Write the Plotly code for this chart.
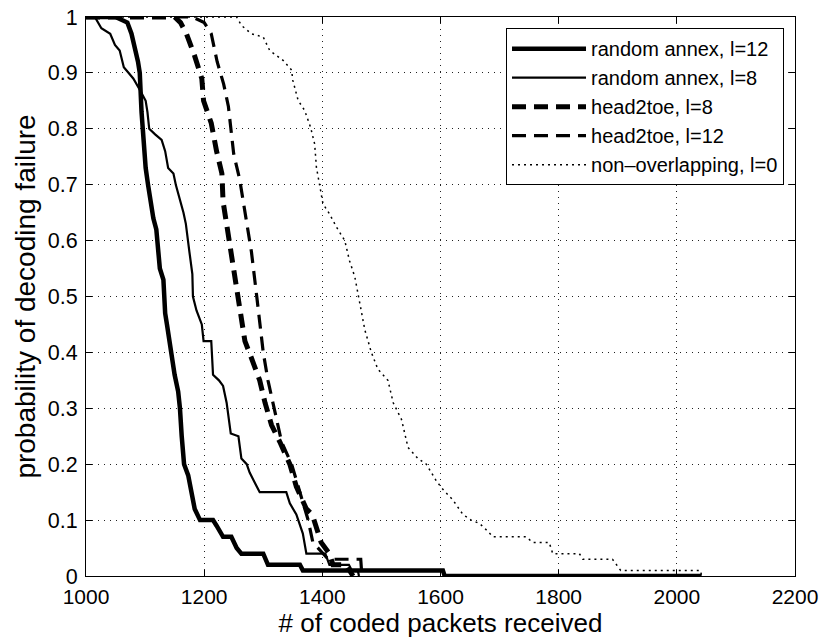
import plotly.graph_objects as go

# ---- data ----
ra12_x = [1000, 1050, 1070, 1077, 1088, 1091, 1094, 1096, 1101, 1105, 1114, 1119, 1121, 1125, 1131, 1132,
          1134, 1137, 1144, 1150, 1156, 1159, 1162, 1166, 1173, 1179, 1184, 1193, 1215, 1221, 1232, 1246,
          1255, 1263, 1300, 1308, 1362, 1367, 1604, 1607, 2042]
ra12_y = [1.00, 1.00, 0.99, 0.97, 0.92, 0.90, 0.83, 0.80, 0.73, 0.70, 0.64, 0.62, 0.60, 0.55, 0.53, 0.50,
          0.47, 0.45, 0.40, 0.36, 0.33, 0.30, 0.25, 0.20, 0.18, 0.15, 0.12, 0.10, 0.10, 0.09, 0.07, 0.07,
          0.05, 0.04, 0.04, 0.02, 0.02, 0.01, 0.01, 0.00, 0.00]

ra8_x = [1000, 1015, 1026, 1041, 1049, 1057, 1064, 1080, 1091, 1101, 1104, 1107, 1117, 1128, 1134, 1139,
         1148, 1152, 1165, 1169, 1175, 1180, 1181, 1187, 1196, 1199, 1212, 1215, 1225, 1232, 1238, 1245,
         1258, 1263, 1272, 1277, 1289, 1294, 1339, 1345, 1356, 1367, 1373, 1405, 1412, 1445, 1450, 1460, 1462]
ra8_y = [1.00, 1.00, 0.98, 0.97, 0.95, 0.94, 0.91, 0.89, 0.87, 0.85, 0.83, 0.80, 0.79, 0.78, 0.76, 0.73,
         0.72, 0.70, 0.65, 0.63, 0.58, 0.54, 0.50, 0.475, 0.45, 0.42, 0.42, 0.36, 0.35, 0.34, 0.31, 0.255,
         0.25, 0.21, 0.20, 0.185, 0.16, 0.15, 0.15, 0.13, 0.11, 0.076, 0.04, 0.04, 0.02, 0.02, 0.01, 0.01, 0.00]

h2t8_x = [1000, 1150, 1160, 1170, 1184, 1196, 1199, 1212, 1221, 1230, 1232, 1241, 1249, 1258, 1263, 1269,
          1280, 1294, 1303, 1314, 1328, 1345, 1356, 1373, 1383, 1398, 1412, 1418, 1440, 1445, 1452]
h2t8_y = [1.00, 1.00, 0.99, 0.97, 0.93, 0.89, 0.85, 0.81, 0.76, 0.72, 0.67, 0.61, 0.56, 0.50, 0.47, 0.42,
          0.39, 0.35, 0.31, 0.27, 0.24, 0.20, 0.16, 0.12, 0.11, 0.06, 0.04, 0.02, 0.02, 0.01, 0.00]

h2t12_x = [1000, 1180, 1200, 1212, 1222, 1233, 1241, 1250, 1260, 1266, 1274, 1280, 1289, 1294, 1300, 1308,
           1320, 1331, 1348, 1362, 1376, 1384, 1401, 1410, 1465, 1467]
h2t12_y = [1.00, 1.00, 0.99, 0.97, 0.92, 0.88, 0.84, 0.755, 0.71, 0.67, 0.62, 0.58, 0.50, 0.45, 0.40, 0.35,
           0.29, 0.24, 0.20, 0.15, 0.10, 0.06, 0.04, 0.03, 0.03, 0.00]

non_x = [1000, 1255, 1263, 1280, 1300, 1311, 1334, 1348, 1350, 1359, 1370, 1380, 1387, 1390, 1396, 1401,
         1412, 1424, 1438, 1446, 1455, 1460, 1466, 1472, 1483, 1494, 1511, 1520, 1534, 1545, 1562, 1576,
         1593, 1604, 1621, 1638, 1652, 1666, 1680, 1689, 1745, 1756, 1784, 1790, 1835, 1841, 1891, 1905,
         2040, 2042]
non_y = [1.00, 1.00, 0.985, 0.97, 0.964, 0.94, 0.922, 0.905, 0.887, 0.851, 0.833, 0.803, 0.773, 0.731, 0.696,
         0.666, 0.648, 0.624, 0.60, 0.564, 0.535, 0.505, 0.47, 0.44, 0.40, 0.37, 0.35, 0.31, 0.28, 0.23,
         0.21, 0.20, 0.17, 0.155, 0.136, 0.11, 0.10, 0.094, 0.08, 0.07, 0.07, 0.06, 0.06, 0.04, 0.04, 0.03,
         0.03, 0.01, 0.01, 0.00]

names = ["random annex, l=12", "random annex, l=8", "head2toe, l=8", "head2toe, l=12",
         "non\u2013overlapping, l=0"]

x_ticks = [1000, 1200, 1400, 1600, 1800, 2000, 2200]
y_ticks = [0, 0.1, 0.2, 0.3, 0.4, 0.5, 0.6, 0.7, 0.8, 0.9, 1]
y_ticktext = ["0", "0.1", "0.2", "0.3", "0.4", "0.5", "0.6", "0.7", "0.8", "0.9", "1"]

FONT = "Liberation Sans, Arial, Helvetica, sans-serif"

fig = go.Figure()
series = [
    (ra12_x, ra12_y, dict(color="black", width=4.5, dash="solid")),
    (ra8_x, ra8_y, dict(color="black", width=2.2, dash="solid")),
    (h2t8_x, h2t8_y, dict(color="black", width=5, dash="14px,8px")),
    (h2t12_x, h2t12_y, dict(color="black", width=3.2, dash="14px,8px")),
    (non_x, non_y, dict(color="black", width=1.5, dash="2px,4px")),
]
for (xs, ys, ln), nm in zip(series, names):
    fig.add_trace(go.Scatter(x=xs, y=ys, mode="lines", name=nm, line=ln))

axis_common = dict(
    showline=True, linecolor="black", linewidth=1, mirror="ticks",
    ticks="inside", ticklen=6, tickcolor="black", tickwidth=1,
    showgrid=True, gridcolor="#222", gridwidth=1, griddash="1px,5px",
    zeroline=False, automargin=False,
)
fig.update_xaxes(range=[1000, 2200], tickvals=x_ticks, tickfont=dict(family=FONT, size=21, color="black"),
                 ticklabelstandoff=2,
                 title=dict(text="# of coded packets received", font=dict(family=FONT, size=26, color="black"),
                            standoff=4),
                 **axis_common)
fig.update_yaxes(range=[0, 1], tickvals=y_ticks, ticktext=y_ticktext,
                 tickfont=dict(family=FONT, size=21.5, color="black"),
                 ticklabelstandoff=3,
                 title=dict(text="probability of decoding failure", font=dict(family=FONT, size=28, color="black"),
                            standoff=4),
                 **axis_common)

fig.update_layout(
    width=824, height=642,
    margin=dict(l=86, r=29, t=17, b=66),
    paper_bgcolor="white", plot_bgcolor="white",
    font=dict(family=FONT, color="black"),
    showlegend=True,
    legend=dict(x=0.9845, y=0.98, xanchor="right", yanchor="top",
                bgcolor="white", bordercolor="black", borderwidth=1,
                font=dict(family=FONT, size=20, color="black"),
                itemwidth=74, tracegroupgap=0),
)

fig.write_html("out.html", config={"displayModeBar": False},
               post_script="document.body.style.margin='0';")
